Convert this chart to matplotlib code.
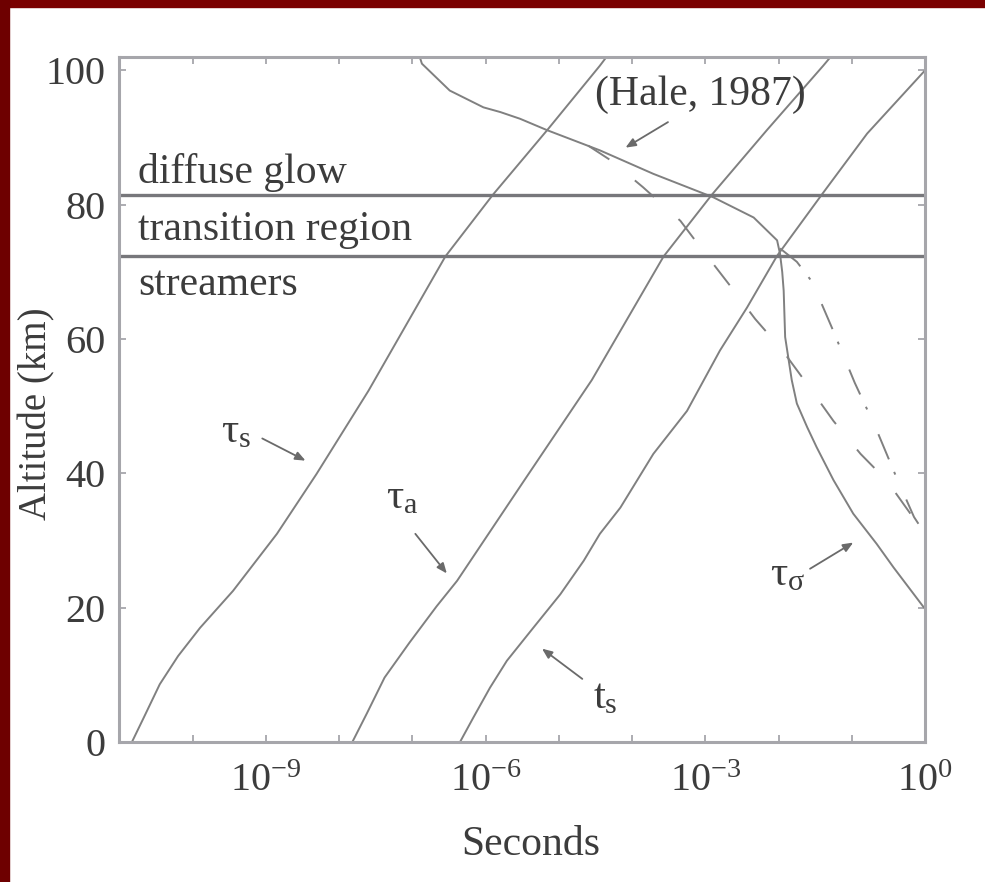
import numpy as np
import matplotlib
matplotlib.use("Agg")
import matplotlib.pyplot as plt
from matplotlib.patches import Rectangle
from matplotlib.ticker import FixedLocator, FuncFormatter

plt.rcParams["font.family"] = ["Liberation Serif", "DejaVu Serif"]
plt.rcParams["mathtext.fontset"] = "custom"
plt.rcParams["mathtext.rm"] = "Liberation Serif"
plt.rcParams["mathtext.it"] = "Liberation Serif"
plt.rcParams["mathtext.bf"] = "Liberation Serif:bold"

# curves: log10(seconds) vs altitude (km)
tau_s_exp = [-10.83, -10.67, -10.45, -10.20, -9.90, -9.45, -8.85, -8.31, -7.60, -6.55, -5.90, -5.16, -4.44, -4.35]
tau_s_alt = [0.0, 3.6, 8.6, 12.8, 17.0, 22.5, 31.0, 39.9, 52.3, 72.3, 81.5, 91.1, 100.7, 102.0]

tau_a_exp = [-7.82, -7.62, -7.38, -7.04, -6.67, -6.39, -5.47, -4.55, -3.57, -2.91, -2.16, -1.39, -1.29]
tau_a_alt = [0.0, 4.3, 9.6, 14.8, 20.2, 24.0, 39.0, 53.9, 72.3, 81.5, 91.1, 100.7, 102.0]

t_s_exp = [-6.35, -6.17, -5.94, -5.71, -5.35, -4.98, -4.66, -4.44, -4.16, -3.71, -3.25, -2.80, -2.43, -2.02, -1.41, -0.79, 0.0]
t_s_alt = [0.0, 3.6, 8.1, 12.1, 17.0, 22.0, 27.0, 31.0, 34.9, 42.9, 49.3, 58.3, 64.7, 72.4, 81.5, 90.6, 100.0]

hale_exp = [-6.90, -6.87, -6.49, -6.03, -5.80, -5.53, -5.16, -4.44, -3.71, -2.89, -2.34, -2.02, -1.98]
hale_alt = [102.0, 101.0, 97.0, 94.5, 93.8, 92.8, 91.1, 88.1, 84.6, 81.1, 78.1, 74.7, 72.7]

tau_sigma_exp = [-1.98, -1.95, -1.93, -1.91, -1.82, -1.75, -1.61, -1.48, -1.25, -0.98, -0.66, -0.43, -0.02, 0.0]
tau_sigma_alt = [72.7, 70.0, 67.2, 60.3, 53.9, 50.4, 46.9, 43.9, 39.0, 34.0, 29.5, 26.0, 20.1, 19.9]

dash_exp = [-4.60, -4.29, -3.85, -3.34, -3.07, -2.68, -2.32, -1.96, -1.61, -1.25, -0.88, -0.52, -0.16, 0.0]
dash_alt = [88.8, 86.6, 82.6, 77.6, 73.7, 68.2, 63.0, 58.5, 53.3, 47.8, 42.9, 38.9, 33.4, 31.0]

dashdot_exp = [-1.98, -1.75, -1.54, -1.26, -0.96, -0.67, -0.39, -0.15, 0.0]
dashdot_alt = [73.5, 71.5, 68.5, 61.4, 53.5, 46.7, 39.4, 33.5, 31.0]

region_bounds = [81.5, 72.3]
region_names = ["diffuse glow", "transition region", "streamers"]
region_alt = [83.2, 74.7, 66.5]

xtick_exp = list(range(-11, 1))
ytick_vals = [0, 20, 40, 60, 80, 100]

# (label, label pos, arrow tail, arrow head) in (log10 s, km)
labels = [
    (r"$\tau_{s}$", (-9.41, 46.1), (-9.05, 45.2), (-8.46, 41.9)),
    (r"$\tau_{a}$", (-7.14, 36.4), (-6.96, 31.0), (-6.53, 25.1)),
    (r"$t_{s}$", (-4.37, 6.6), (-4.68, 9.4), (-5.23, 13.9)),
    (r"$\tau_{\sigma}$", (-1.88, 24.8), (-1.57, 25.8), (-0.98, 29.7)),
]
hale_text = "(Hale, 1987)"

line_c = "#808080"
frame_c = "#a6a6ab"
text_c = "#3c3c3c"

fig = plt.figure(figsize=(9.85, 8.82), dpi=100)
fig.patch.set_facecolor("white")
fig.add_artist(Rectangle((0, 1 - 7 / 882), 1, 7 / 882, transform=fig.transFigure,
                         color="#7a0000", zorder=10))
fig.add_artist(Rectangle((0, 0), 9 / 985, 1, transform=fig.transFigure,
                         color="#6e0000", zorder=10))

ax = fig.add_axes([0.1213, 0.1587, 0.8178, 0.7767])

def pw(e):
    return 10.0 ** np.asarray(e)

ax.plot(pw(tau_s_exp), tau_s_alt, color=line_c, lw=1.4)
ax.plot(pw(tau_a_exp), tau_a_alt, color=line_c, lw=1.4)
ax.plot(pw(t_s_exp), t_s_alt, color=line_c, lw=1.4)
ax.plot(pw(hale_exp), hale_alt, color=line_c, lw=1.4)
ax.plot(pw(tau_sigma_exp), tau_sigma_alt, color=line_c, lw=1.4)
ax.plot(pw(dash_exp), dash_alt, color=line_c, lw=1.4, dashes=(13, 17))
ax.plot(pw(dashdot_exp), dashdot_alt, color=line_c, lw=1.4, dashes=(14, 7, 1.5, 14))

for b in region_bounds:
    ax.axhline(b, color="#77777b", lw=2.4)
for name, a in zip(region_names, region_alt):
    ax.text(0.023, a, name, transform=ax.get_yaxis_transform(), fontsize=30,
            color=text_c, va="baseline", ha="left")

ax.text(10 ** -4.5, 94.8, hale_text, fontsize=30, color=text_c, va="baseline", ha="left")
ax.annotate("", xy=(10 ** -4.09, 88.5), xytext=(10 ** -3.51, 92.3),
            arrowprops=dict(arrowstyle="-|>,head_length=0.6,head_width=0.25",
                            color="#6a6a6a", lw=1.3, shrinkA=0, shrinkB=0))

for txt, pos, tail, head in labels:
    ax.text(10 ** pos[0], pos[1], txt, fontsize=31, color=text_c, ha="center", va="center")
    ax.annotate("", xy=(10 ** head[0], head[1]), xytext=(10 ** tail[0], tail[1]),
                arrowprops=dict(arrowstyle="-|>,head_length=0.6,head_width=0.25",
                                color="#6a6a6a", lw=1.3, shrinkA=0, shrinkB=0))

ax.set_xscale("log")
ax.set_xlim(1e-11, 1e0)
ax.set_ylim(0, 102)

ax.xaxis.set_major_locator(FixedLocator([10.0 ** e for e in xtick_exp]))
ax.xaxis.set_minor_locator(FixedLocator([]))
ax.xaxis.set_major_formatter(FuncFormatter(
    lambda v, p: r"$10^{%d}$" % round(np.log10(v)) if round(np.log10(v)) % 3 == 0 else ""))
ax.set_yticks(ytick_vals)

ax.tick_params(axis="both", which="major", direction="in", length=5, width=1.3,
               color=frame_c, labelcolor=text_c, labelsize=29, top=True, right=True)
ax.tick_params(axis="x", pad=15)
ax.tick_params(axis="y", pad=10)
for sp in ax.spines.values():
    sp.set_color(frame_c)
    sp.set_linewidth(2.2)

ax.set_xlabel("Seconds", fontsize=30, color=text_c)
ax.set_ylabel("Altitude (km)", fontsize=28, color=text_c)
ax.xaxis.set_label_coords(0.51, -0.122)
ax.yaxis.set_label_coords(-0.08, 0.48)

fig.savefig("out.png", dpi=100, facecolor="white")
